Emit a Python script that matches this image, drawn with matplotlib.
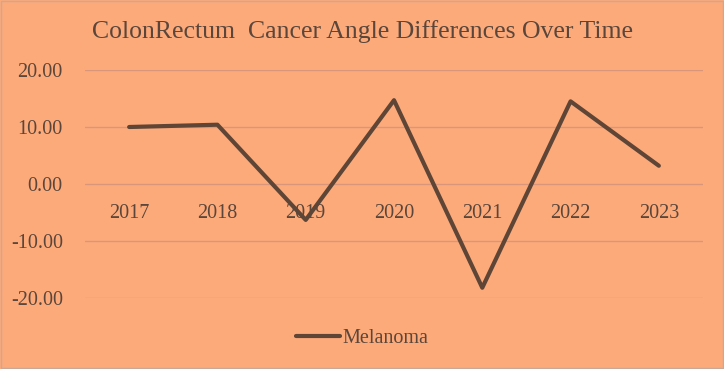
import matplotlib
matplotlib.use("Agg")
import matplotlib.pyplot as plt

years = ["2017", "2018", "2019", "2020", "2021", "2022", "2023"]
melanoma = [10.0, 10.4, -6.3, 14.7, -18.2, 14.5, 3.2]

bg = "#FDAA7B"
line_col = "#5E4535"
text_col = "#5A463A"
grid_col = "#D9967A"

plt.rcParams["font.family"] = ["Liberation Serif", "DejaVu Serif"]

fig = plt.figure(figsize=(7.24, 3.69), dpi=100, facecolor=bg)
fig.patches.append(plt.Rectangle((0.001, 0.002), 0.997, 0.995, transform=fig.transFigure,
                                 fill=False, edgecolor="#C8A898", linewidth=1.0))
ax = fig.add_axes([85/724, 1-298/369, (703-85)/724, (298-70)/369])
ax.set_facecolor(bg)

x = list(range(len(years)))
ax.plot(x, melanoma, color=line_col, linewidth=3.0, label="Melanoma", solid_capstyle="round")

ax.set_xlim(-0.5, len(years)-0.5)
ax.set_ylim(-20, 20)
ax.set_yticks([-20, -10, 0, 10, 20])
ax.set_yticklabels(["-20.00", "-10.00", "0.00", "10.00", "20.00"])
ax.yaxis.grid(True, color=grid_col, linewidth=1.0)
ax.set_axisbelow(True)
for s in ax.spines.values():
    s.set_visible(False)
ax.tick_params(axis="y", length=0, pad=16, labelsize=14.5, labelcolor=text_col)

ax.set_xticks([])
for i, yr in enumerate(years):
    ax.text(i, -5.2, yr, ha="center", va="center", fontsize=14.5, color=text_col)

fig.text(0.5, 1-32/369, "ColonRectum  Cancer Angle Differences Over Time", ha="center", va="center",
         fontsize=18.5, color=text_col)

leg = fig.legend(loc="center", bbox_to_anchor=(0.5, 1-338/369), frameon=False, fontsize=14.5,
                 handlelength=2.2, handletextpad=0.1, labelcolor=text_col)

fig.savefig("out.png", dpi=100, facecolor=bg)
